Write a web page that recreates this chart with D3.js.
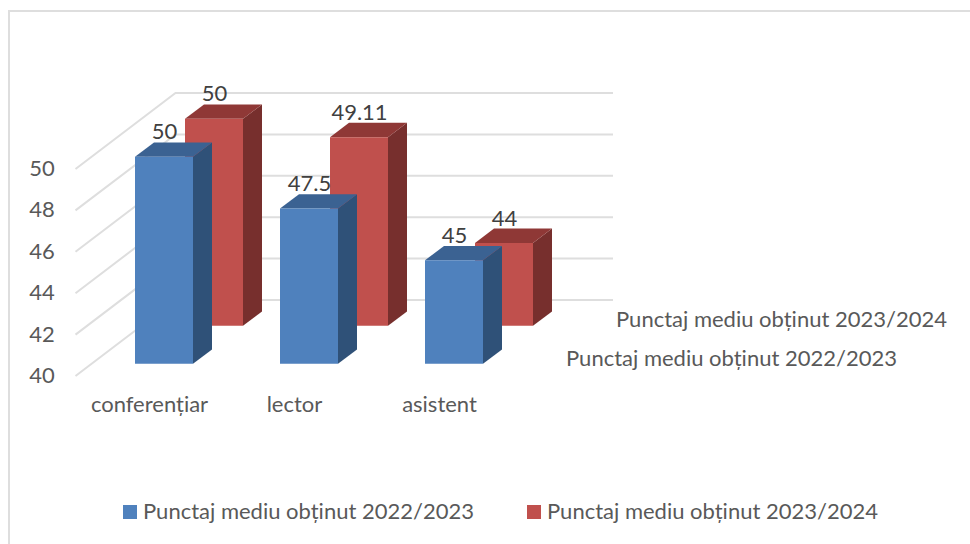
<!DOCTYPE html>
<html>
<head>
<meta charset="utf-8">
<script src="https://cdn.jsdelivr.net/npm/d3@7"></script>
<style>
  body { margin: 0; background: #fff; }
  svg { display: block; }
  text { font-family: Lato, "Open Sans", sans-serif; }
</style>
</head>
<body>
<svg></svg>
<script>
const categories = ['conferențiar', 'lector', 'asistent']
const seriesNames = ['Punctaj mediu obținut 2022/2023', 'Punctaj mediu obținut 2023/2024']
const values2022 = [50, 47.5, 45]
const values2023 = [50, 49.11, 44]
const yTicks = [40, 42, 44, 46, 48, 50]

const w = 970
const h = 544

// oblique projection: how far the back wall sits from the front edge
const depthX = 100
const depthY = -76
const plotLeft = 75.5
const plotRight = 513

const colors = [
  { front: '#4f81bd', top: '#3b6292', side: '#2f5178' },
  { front: '#c0504d', top: '#8f3836', side: '#772f2d' }
]

const svg = d3.select('svg').attr('width', w).attr('height', h)

const xScale = d3.scaleBand()
  .domain(categories)
  .range([plotLeft, 510.5])
  .paddingInner(0.6)
  .paddingOuter(0.3)

const yScale = d3.scaleLinear()
  .domain([40, 50])
  .range([376, 169])

// each series stands at its own depth, 0 = front edge, 1 = back wall
const depthScale = d3.scaleOrdinal()
  .domain(seriesNames)
  .range([0.16, 0.66])
const barDepth = 0.19

const project = (x, y, d) => [x + depthX * d, y + depthY * d]

svg.append('rect')
  .attr('x', 9).attr('y', 11)
  .attr('width', w).attr('height', h)
  .attr('fill', '#fff')
  .attr('stroke', '#dedede')
  .attr('stroke-width', 2)

// gridlines: side wall then back wall
const gridLine = d3.line()
svg.append('g')
  .selectAll('path')
  .data(yTicks)
  .enter()
  .append('path')
  .attr('d', (t) => gridLine([
    project(plotLeft, yScale(t), 0),
    project(plotLeft, yScale(t), 1),
    project(plotRight, yScale(t), 1)
  ]))
  .attr('fill', 'none')
  .attr('stroke', '#dedede')
  .attr('stroke-width', 2)

let drawBars = (name, vals, c) => {
  const d0 = depthScale(name)
  const d1 = d0 + barDepth
  const g = svg.append('g')

  const face = (fn) => g.selectAll(null)
    .data(categories)
    .enter()
    .append('path')
    .attr('d', (cat, i) => gridLine(fn(xScale(cat), xScale(cat) + xScale.bandwidth(), yScale(vals[i]))) + 'Z')

  face((x0, x1, yt) => [project(x1, yt, d0), project(x1, yt, d1), project(x1, yScale(40), d1), project(x1, yScale(40), d0)])
    .attr('fill', c.side)
  face((x0, x1, yt) => [project(x0, yt, d0), project(x0, yt, d1), project(x1, yt, d1), project(x1, yt, d0)])
    .attr('fill', c.top)
  face((x0, x1, yt) => [project(x0, yt, d0), project(x1, yt, d0), project(x1, yScale(40), d0), project(x0, yScale(40), d0)])
    .attr('fill', c.front)

  g.selectAll('text')
    .data(categories)
    .enter()
    .append('text')
    .attr('x', (cat) => project(xScale(cat) + xScale.bandwidth() / 2, 0, d0)[0] + 0.5)
    .attr('y', (cat, i) => project(0, yScale(vals[i]), d1)[1] - 3)
    .attr('text-anchor', 'middle')
    .attr('font-size', 22)
    .attr('fill', '#404040')
    .text((cat, i) => vals[i])
}

// back series first so the front one covers it
drawBars(seriesNames[1], values2023, colors[1])
drawBars(seriesNames[0], values2022, colors[0])

// value axis labels
svg.append('g')
  .selectAll('text')
  .data(yTicks)
  .enter()
  .append('text')
  .attr('x', 42)
  .attr('y', (t) => yScale(t) + 7)
  .attr('text-anchor', 'middle')
  .attr('font-size', 22)
  .attr('fill', '#595959')
  .text((t) => t)

// category labels
svg.append('g')
  .selectAll('text')
  .data(categories)
  .enter()
  .append('text')
  .attr('x', (cat) => xScale(cat) + xScale.bandwidth() / 2 + 1.5)
  .attr('y', 412)
  .attr('text-anchor', 'middle')
  .attr('font-size', 22)
  .attr('fill', '#595959')
  .text((cat) => cat)

// series axis labels
const seriesLabels = [[566, 366], [616, 327]]
svg.append('g')
  .selectAll('text')
  .data(seriesNames)
  .enter()
  .append('text')
  .attr('x', (d, i) => seriesLabels[i][0])
  .attr('y', (d, i) => seriesLabels[i][1])
  .attr('font-size', 22)
  .attr('fill', '#595959')
  .text((d) => d)

// legend
const legendX = [123, 527]
const legend = svg.append('g')
  .selectAll('g')
  .data(seriesNames)
  .enter()
  .append('g')
  .attr('transform', (d, i) => 'translate(' + legendX[i] + ', 505)')
legend.append('rect')
  .attr('width', 14)
  .attr('height', 14)
  .attr('fill', (d, i) => colors[i].front)
legend.append('text')
  .attr('x', 20)
  .attr('y', 14)
  .attr('font-size', 22)
  .attr('fill', '#595959')
  .text((d) => d)
</script>
</body>
</html>
